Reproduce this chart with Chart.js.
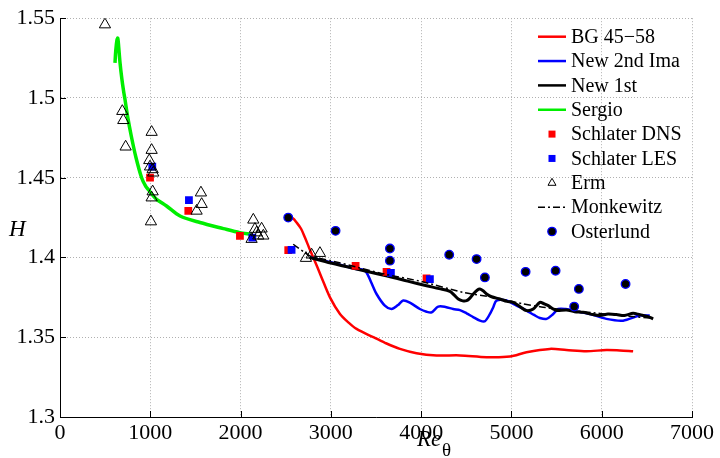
<!DOCTYPE html>
<html>
<head>
<meta charset="utf-8">
<script src="https://cdn.jsdelivr.net/npm/chart.js@4/dist/chart.umd.min.js"></script>
<style>
  body { margin: 0; background: #fff; }
  canvas { display: block; }
</style>
</head>
<body>
<canvas id="hChart" width="720" height="458"></canvas>
<script>
// axis ticks
const xTicks = [0, 1000, 2000, 3000, 4000, 5000, 6000, 7000];
const xTickLabels = ['0', '1000', '2000', '3000', '4000', '5000', '6000', '7000'];
const yTicks = [1.3, 1.35, 1.4, 1.45, 1.5, 1.55];
const yTickLabels = ['1.3', '1.35', '1.4', '1.45', '1.5', '1.55'];

// BG 45-58
const bgRe = [2528, 2580, 2621, 2670, 2713, 2760, 2805, 2850, 2897, 2990, 3101, 3200, 3285, 3470, 3600, 3765, 3949, 4171, 4430, 4725, 4983, 5167, 5425, 5609, 5831, 6052, 6200, 6348];
const bgH = [1.425, 1.4245, 1.4219, 1.418, 1.4125, 1.406, 1.400, 1.394, 1.3875, 1.375, 1.3646, 1.359, 1.3552, 1.350, 1.3465, 1.3427, 1.3400, 1.3386, 1.3386, 1.3375, 1.3379, 1.3406, 1.3427, 1.342, 1.3412, 1.342, 1.3417, 1.3412];

// New 2nd Ima
const newSecRe = [2768, 3000, 3285, 3350, 3395, 3450, 3506, 3598, 3672, 3740, 3801, 3880, 3986, 4060, 4115, 4189, 4270, 4355, 4430, 4503, 4580, 4651, 4706, 4762, 4800, 4835, 4946, 5057, 5167, 5250, 5315, 5389, 5463, 5518, 5600, 5684, 5868, 6052, 6237, 6421, 6532];
const newSecH = [1.400, 1.397, 1.3927, 1.3925, 1.3906, 1.384, 1.3771, 1.3698, 1.3677, 1.370, 1.373, 1.3715, 1.3677, 1.366, 1.3656, 1.3692, 1.369, 1.3677, 1.367, 1.365, 1.3625, 1.3604, 1.360, 1.3646, 1.369, 1.373, 1.373, 1.3698, 1.3667, 1.364, 1.3621, 1.3615, 1.3646, 1.3677, 1.3677, 1.3667, 1.3646, 1.3615, 1.3604, 1.3636, 1.3636];

// New 1st
const newFirstRe = [2768, 3000, 3285, 3500, 3691, 3850, 4060, 4200, 4318, 4370, 4411, 4460, 4503, 4540, 4577, 4620, 4651, 4690, 4725, 4780, 4872, 4950, 5020, 5100, 5167, 5242, 5315, 5360, 5408, 5463, 5500, 5610, 5700, 5794, 5880, 5979, 6070, 6163, 6250, 6348, 6400, 6459, 6520, 6570];
const newFirstH = [1.400, 1.3965, 1.3927, 1.390, 1.3875, 1.3852, 1.3823, 1.3805, 1.3788, 1.3762, 1.374, 1.3728, 1.3729, 1.3745, 1.3771, 1.3795, 1.3802, 1.379, 1.3771, 1.3754, 1.374, 1.3725, 1.3719, 1.369, 1.3667, 1.3677, 1.3719, 1.371, 1.3698, 1.3677, 1.3667, 1.3671, 1.366, 1.3656, 1.3645, 1.3636, 1.3645, 1.3642, 1.3636, 1.365, 1.3645, 1.3636, 1.3628, 1.3615];

// Sergio
const sergioRe = [609, 618, 630, 640, 650, 665, 685, 705, 720, 750, 790, 840, 904, 950, 980, 1020, 1070, 1180, 1330, 1550, 1810, 1990, 2110];
const sergioH = [1.522, 1.530, 1.536, 1.5375, 1.532, 1.522, 1.512, 1.504, 1.499, 1.488, 1.476, 1.463, 1.450, 1.4445, 1.4425, 1.4395, 1.4365, 1.4323, 1.426, 1.4219, 1.4181, 1.4156, 1.4146];

// Schlater DNS / LES
const dnsRe = [997, 1421, 1993, 2528, 3274, 3617, 4060];
const dnsH = [1.450, 1.4292, 1.4136, 1.4046, 1.3948, 1.391, 1.3869];
const lesRe = [1022, 1428, 2130, 2565, 3665, 4097];
const lesH = [1.4569, 1.436, 1.4125, 1.4048, 1.3903, 1.3865];

// Erm
const ermRe = [498, 690, 701, 727, 1015, 1015, 989, 997, 1026, 1033, 1026, 1015, 1007, 1513, 1561, 1569, 2122, 2141, 2159, 2178, 2196, 2233, 2252, 2724, 2787, 2879];
const ermH = [1.546, 1.4917, 1.486, 1.4694, 1.4786, 1.4673, 1.4609, 1.4569, 1.4552, 1.4531, 1.4413, 1.4375, 1.4225, 1.4292, 1.4406, 1.4334, 1.4115, 1.4236, 1.4178, 1.4156, 1.4136, 1.418, 1.4136, 1.3996, 1.4017, 1.4027];

// Monkewitz
const monkRe = [2583, 2700, 2768, 3000, 3285, 3600, 4000, 4466, 4800, 5130, 5352, 5700, 6000, 6300, 6550];
const monkH = [1.4083, 1.4035, 1.401, 1.398, 1.394, 1.3895, 1.385, 1.3781, 1.375, 1.3709, 1.3688, 1.3665, 1.3648, 1.3632, 1.362];

// Osterlund
const ostRe = [2528, 3052, 3654, 3654, 4311, 4614, 4706, 5157, 5489, 5747, 5695, 6264];
const ostH = [1.425, 1.4167, 1.4056, 1.398, 1.4017, 1.399, 1.3875, 1.391, 1.3917, 1.3803, 1.3692, 1.3834];

const pts = (xs, ys) => xs.map((x, i) => ({ x: x, y: ys[i] }));
const serif = "'Liberation Serif', 'Times New Roman', serif";

function lineSet(label, xs, ys, color, width, order) {
    return {
        label: label, data: pts(xs, ys), showLine: true,
        borderColor: color, borderWidth: width, pointRadius: 0,
        tension: 0.3, order: order, legendKind: 'line'
    };
}

const datasets = [
    lineSet('BG 45\u221258', bgRe, bgH, '#ff0000', 2.5, 9),
    lineSet('New 2nd Ima', newSecRe, newSecH, '#0000ff', 2.5, 8),
    lineSet('New 1st', newFirstRe, newFirstH, '#000000', 3, 7),
    lineSet('Sergio', sergioRe, sergioH, '#00ee00', 3.5, 6),
    {
        label: 'Schlater DNS', data: pts(dnsRe, dnsH), pointStyle: 'rect',
        pointRadius: 5.5, borderWidth: 0, backgroundColor: '#ff0000', borderColor: '#ff0000',
        order: 5, legendKind: 'rect'
    },
    {
        label: 'Schlater LES', data: pts(lesRe, lesH), pointStyle: 'rect',
        pointRadius: 5.5, borderWidth: 0, backgroundColor: '#0000ff', borderColor: '#0000ff',
        order: 4, legendKind: 'rect'
    },
    {
        label: 'Erm', data: pts(ermRe, ermH), pointStyle: 'triangle',
        pointRadius: 6.5, borderWidth: 1, backgroundColor: 'rgba(0,0,0,0)', borderColor: '#000',
        order: 3, legendKind: 'triangle'
    },
    {
        label: 'Monkewitz', data: pts(monkRe, monkH), showLine: true, pointRadius: 0,
        borderColor: '#000', borderWidth: 1.5, borderDash: [7, 3, 2, 3], tension: 0.2,
        order: 2, legendKind: 'dashdot'
    },
    {
        label: 'Osterlund', data: pts(ostRe, ostH), pointStyle: 'circle',
        pointRadius: 4.3, borderWidth: 1.3, backgroundColor: '#000', borderColor: '#0000ff',
        order: 1, legendKind: 'circle'
    }
];

// inward ticks, axis titles and the legend inside the plot
const extras = {
    id: 'extras',
    afterDraw(chart) {
        const ctx = chart.ctx;
        const area = chart.chartArea;
        const xs = chart.scales.x, ys = chart.scales.y;
        ctx.save();
        ctx.strokeStyle = '#000';
        ctx.lineWidth = 1;
        ctx.beginPath();
        xTicks.forEach(v => {
            const px = Math.round(xs.getPixelForValue(v)) + 0.5;
            ctx.moveTo(px, area.bottom); ctx.lineTo(px, area.bottom - 6);
        });
        yTicks.forEach(v => {
            const py = Math.round(ys.getPixelForValue(v)) + 0.5;
            ctx.moveTo(area.left, py); ctx.lineTo(area.left + 6, py);
        });
        ctx.stroke();

        // axis titles
        ctx.fillStyle = '#000';
        ctx.textBaseline = 'alphabetic';
        ctx.textAlign = 'left';
        ctx.font = 'italic 23px ' + serif;
        ctx.fillText('H', 9, 236);
        ctx.fillText('Re', 417, 446);
        ctx.font = '19px ' + serif;
        ctx.fillText('\u03b8', 442, 456);

        // legend
        const x0 = 538, x1 = 566, mx = 552, tx = 571;
        ctx.font = '20px ' + serif;
        ctx.textBaseline = 'middle';
        chart.data.datasets.forEach((ds, i) => {
            const y = 36.7 + i * 24.35;
            ctx.save();
            if (ds.legendKind === 'line' || ds.legendKind === 'dashdot') {
                ctx.strokeStyle = ds.borderColor;
                ctx.lineWidth = ds.legendKind === 'dashdot' ? 1.5 : 2.5;
                ctx.setLineDash(ds.legendKind === 'dashdot' ? [7, 3, 2, 3] : []);
                ctx.beginPath(); ctx.moveTo(x0, y); ctx.lineTo(x1, y); ctx.stroke();
            } else if (ds.legendKind === 'rect') {
                ctx.fillStyle = ds.backgroundColor;
                ctx.fillRect(mx - 3.5, y - 3.5, 7, 7);
            } else if (ds.legendKind === 'triangle') {
                ctx.strokeStyle = '#000'; ctx.lineWidth = 1;
                ctx.beginPath();
                ctx.moveTo(mx, y - 4.5); ctx.lineTo(mx + 4, y + 2.5); ctx.lineTo(mx - 4, y + 2.5);
                ctx.closePath(); ctx.stroke();
            } else if (ds.legendKind === 'circle') {
                ctx.fillStyle = '#000'; ctx.strokeStyle = '#0000ff'; ctx.lineWidth = 1.3;
                ctx.beginPath(); ctx.arc(mx, y, 4.2, 0, Math.PI * 2); ctx.fill(); ctx.stroke();
            }
            ctx.restore();
            ctx.fillStyle = '#000';
            ctx.fillText(ds.label, tx, y + 1);
        });
        ctx.restore();
    }
};

const tickFont = { family: serif, size: 22 };

new Chart(document.getElementById('hChart'), {
    type: 'scatter',
    data: { datasets: datasets },
    options: {
        responsive: false,
        animation: false,
        layout: { padding: { top: 17, right: 28, left: 0, bottom: 0 } },
        plugins: { legend: { display: false }, tooltip: { enabled: false } },
        scales: {
            x: {
                type: 'linear', min: 0, max: 7000,
                afterBuildTicks: s => { s.ticks = xTicks.map(v => ({ value: v })); },
                afterFit: s => { s.height = 41; },
                ticks: {
                    font: tickFont, color: '#000', padding: 3, maxRotation: 0, autoSkip: false,
                    callback: v => xTickLabels[xTicks.indexOf(v)]
                },
                grid: { color: '#b0b0b0', lineWidth: 1, drawTicks: false },
                border: { display: true, color: '#000', width: 1, dash: [1, 2] }
            },
            y: {
                type: 'linear', min: 1.3, max: 1.55,
                afterBuildTicks: s => { s.ticks = yTicks.map(v => ({ value: v })); },
                afterFit: s => { s.width = 60; },
                ticks: {
                    font: tickFont, color: '#000', padding: 5, autoSkip: false,
                    callback: v => yTickLabels[yTicks.indexOf(v)]
                },
                grid: { color: '#b0b0b0', lineWidth: 1, drawTicks: false },
                border: { display: true, color: '#000', width: 1, dash: [1, 2] }
            }
        }
    },
    plugins: [extras]
});
</script>
</body>
</html>
